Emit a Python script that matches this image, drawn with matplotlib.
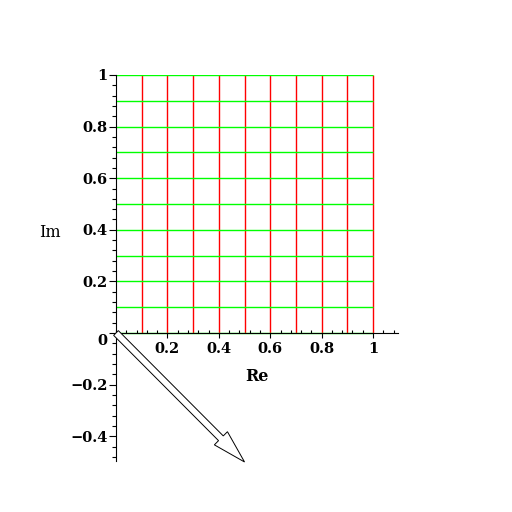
import numpy as np
import matplotlib.pyplot as plt
import matplotlib.transforms as mtransforms
from matplotlib.ticker import MultipleLocator, FixedLocator

# grid lines of the region, vertical (Re = const) and horizontal (Im = const)
re_lines = [0.1, 0.2, 0.3, 0.4, 0.5, 0.6, 0.7, 0.8, 0.9, 1.0]
im_lines = [0.0, 0.1, 0.2, 0.3, 0.4, 0.5, 0.6, 0.7, 0.8, 0.9, 1.0]
grid_span = [0.0, 1.0]

# the arrow vector
arrow_re = 0.5
arrow_im = -0.5

x_ticks = [0.2, 0.4, 0.6, 0.8, 1.0]
x_labels = ["0.2", "0.4", "0.6", "0.8", "1"]
y_ticks = [-0.4, -0.2, 0.0, 0.2, 0.4, 0.6, 0.8, 1.0]
y_labels = ["\u22120.4", "\u22120.2", "0", "0.2", "0.4", "0.6", "0.8", "1"]

fnt = dict(family="DejaVu Serif", weight="bold", size=10.5)

fig = plt.figure(figsize=(5.12, 5.12), dpi=100)
ax = fig.add_axes([116/512, 1 - 460.7/512, (398 - 116)/512, (460.7 - 75)/512])

ax.vlines(re_lines, grid_span[0], grid_span[1], colors="red", lw=1.0, zorder=1)
ax.hlines(im_lines, grid_span[0], grid_span[1], colors=(0, 1, 0), lw=1.0, zorder=1)

ax.arrow(0, 0, arrow_re, arrow_im, width=0.026, head_width=0.072,
         head_length=0.13, length_includes_head=True, fc="white",
         ec="black", lw=0.7, clip_on=False, zorder=3)

ax.set_xlim(0, 1.097)
ax.set_ylim(-0.495, 1.0)

for s in ["top", "right"]:
    ax.spines[s].set_visible(False)
ax.spines["bottom"].set_position(("data", 0))
ax.spines["left"].set_position(("data", 0))
for s in ["bottom", "left"]:
    ax.spines[s].set_linewidth(0.8)
    ax.spines[s].set_zorder(2)

ax.xaxis.set_major_locator(FixedLocator(x_ticks))
ax.set_xticklabels(x_labels, fontdict=fnt)
ax.xaxis.set_minor_locator(MultipleLocator(0.04))
ax.yaxis.set_major_locator(FixedLocator(y_ticks))
ax.set_yticklabels(y_labels, fontdict=fnt)
ax.yaxis.set_minor_locator(MultipleLocator(0.04))

ax.tick_params(axis="x", which="major", direction="out", length=3.5, width=0.8, pad=3)
ax.tick_params(axis="x", which="minor", direction="in", length=2.5, width=0.8)
ax.tick_params(axis="y", which="major", direction="out", length=5, width=0.8, pad=1)
ax.tick_params(axis="y", which="minor", direction="out", length=3, width=0.8)

# the "0" on the Im axis sits a little below the Re axis
for lab in ax.get_yticklabels():
    if lab.get_text() == "0":
        lab.set_transform(lab.get_transform() +
                          mtransforms.ScaledTranslation(0, -5/72, fig.dpi_scale_trans))

ax.set_xlabel("Re", fontdict=dict(fnt, size=11.5))
ax.xaxis.set_label_coords(0.55, -0.135, transform=ax.transData)
ax.set_ylabel("Im", fontdict=dict(fnt, weight="normal", size=11.5), rotation=0,
              va="center", ha="center")
ax.yaxis.set_label_coords(-0.257, 0.39, transform=ax.transData)

fig.savefig("out.png", dpi=100)
